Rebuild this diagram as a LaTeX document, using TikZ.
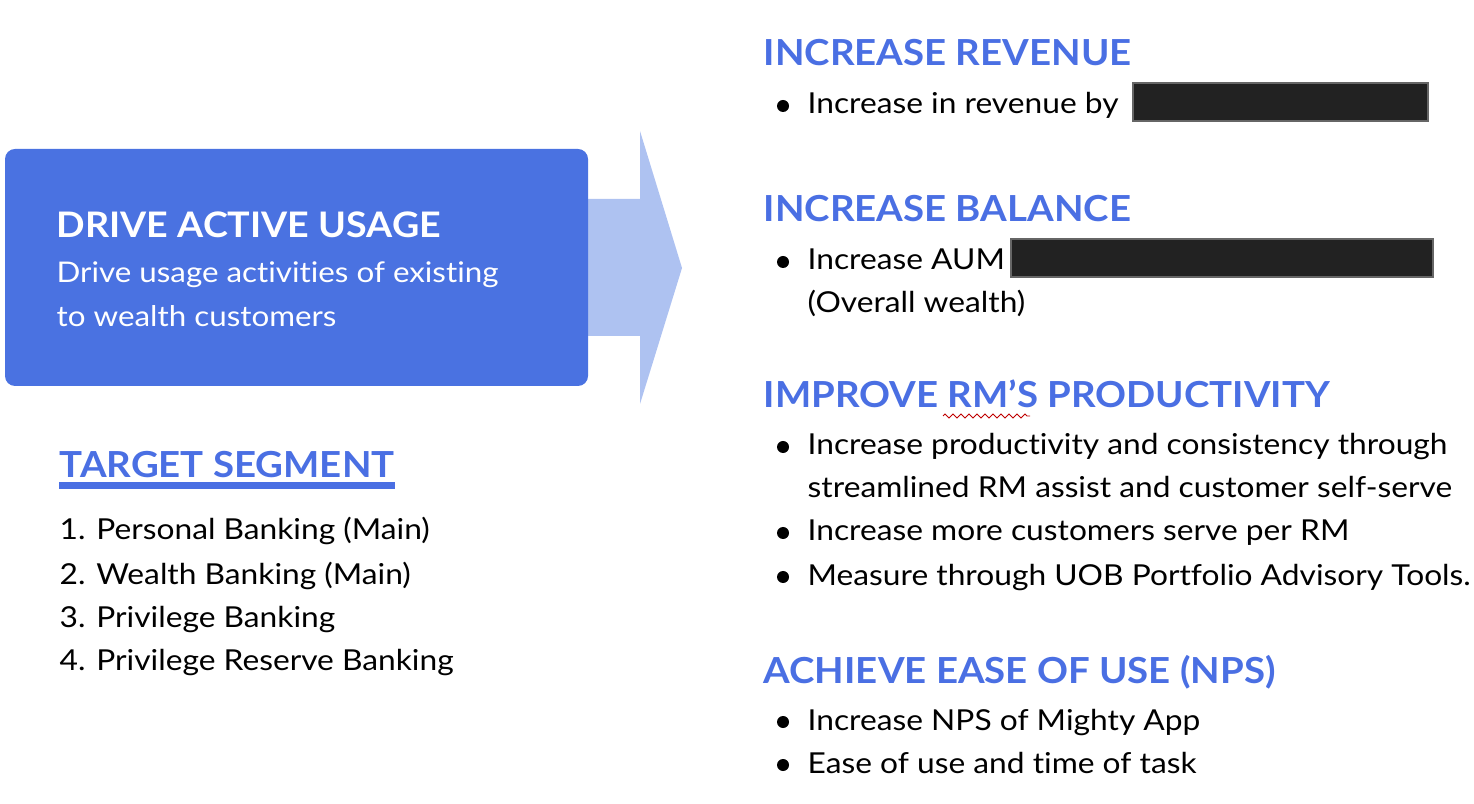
\documentclass[tikz,border=0pt]{standalone}
\usepackage{fontspec}
\setmainfont{Lato}[Ligatures=NoCommon]
\newfontfamily\bodyf{Lato}[FakeStretch=1.10, Ligatures=NoCommon]
\newfontfamily\headf{Lato}[FakeStretch=1.07, Ligatures=NoCommon]
\usetikzlibrary{decorations.pathmorphing}
\definecolor{mainblue}{HTML}{4A72E1}
\definecolor{headblue}{HTML}{4A6FE3}
\definecolor{lightblue}{HTML}{AEC2F1}
\definecolor{redact}{HTML}{222222}
\tikzset{
  head/.style={anchor=base west, inner sep=0pt, text=headblue, font=\headf\fontsize{10.2pt}{12pt}\bfseries},
  body/.style={anchor=base west, inner sep=0pt, text=black, font=\bodyf\fontsize{8.2pt}{10pt}\selectfont},
  boxhead/.style={anchor=base west, inner sep=0pt, text=white, font=\headf\fontsize{10pt}{12pt}\bfseries},
  boxbody/.style={anchor=base west, inner sep=0pt, text=white, font=\bodyf\fontsize{8.1pt}{10pt}\selectfont},
  dot/.style={circle, fill=black, inner sep=0pt, minimum size=0.12cm},
  redactbox/.style={fill=redact, draw=black!60, line width=0.4pt},
}
\begin{document}
\begin{tikzpicture}[x=0.01cm,y=-0.01cm]
\useasboundingbox (0,0) rectangle (1474,804);
% arrow
\fill[lightblue] (580,199) -- (640,199) -- (640,131) -- (682,268) -- (640,404) -- (640,336) -- (580,336) -- cycle;
% main box
\fill[mainblue, rounded corners=0.1cm] (5,149) rectangle (588,386);
\node[boxhead] (t1) at (56,238) {DRIVE ACTIVE USAGE};
\node[boxbody] (t2) at (56,283) {Drive usage activities of existing};
\node[boxbody] (t3) at (56,327) {to wealth customers};
% target segment
\node[head] (ts) at (59,478) {TARGET SEGMENT};
\draw[headblue, line width=0.07cm] ([yshift=-0.07cm]ts.base west) -- ([yshift=-0.07cm]ts.base east);
\node[body] (l1) at (59,540) {1. Personal Banking (Main)};
\node[body] (l2) at (59,584) {2. Wealth Banking (Main)};
\node[body] (l3) at (59,627) {3. Privilege Banking};
\node[body] (l4) at (59,670) {4. Privilege Reserve Banking};
% right column
\node[head] (h1) at (763,66) {INCREASE REVENUE};
\node[dot] at (783,106) {};
\node[body] (b11) at (807,114) {Increase in revenue by};
\fill[redactbox] (1133,83) rectangle (1428,121);

\node[head] (h2) at (763,222) {INCREASE BALANCE};
\node[dot] at (783,262) {};
\node[body] (b21) at (807,270) {Increase AUM};
\fill[redactbox] (1011,239) rectangle (1433,277);
\node[body] (b22) at (807,313) {(Overall wealth)};

\node[head] (h3) at (763,408) {IMPROVE RM’S PRODUCTIVITY};
\draw[red!75!black, line width=0.25pt, decorate, decoration={zigzag, segment length=0.08cm, amplitude=0.02cm}] (943,416) -- (1030,416);
\node[dot] at (783,447) {};
\node[body] (b31) at (807,455) {Increase productivity and consistency through};
\node[body] (b32) at (807,498) {streamlined RM assist and customer self-serve};
\node[dot] at (783,533) {};
\node[body] (b33) at (807,541) {Increase more customers serve per RM};
\node[dot] at (783,577) {};
\node[body] (b34) at (807,585) {Measure through UOB Portfolio Advisory Tools.};

\node[head] (h4) at (763,683) {ACHIEVE EASE OF USE (NPS)};
\node[dot] at (783,722) {};
\node[body] (b41) at (807,730) {Increase NPS of Mighty App};
\node[dot] at (783,765) {};
\node[body] (b42) at (807,773) {Ease of use and time of task};
\end{tikzpicture}
\end{document}
